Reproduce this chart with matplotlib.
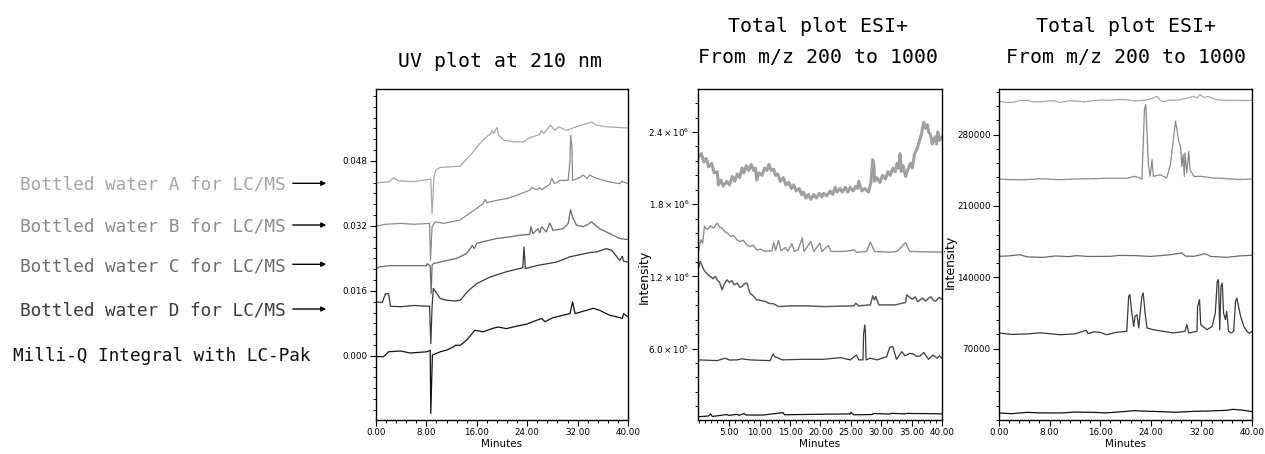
import numpy as np
import matplotlib
matplotlib.use('Agg')
import matplotlib.pyplot as plt
from matplotlib.ticker import MultipleLocator, FixedLocator, FormatStrFormatter
from matplotlib.patches import FancyArrowPatch

plt.rcParams['font.family'] = ['DejaVu Sans']
plt.rcParams['mathtext.fontset'] = 'dejavusans'

# sample names (left side)
sample_names = ['Bottled water A for LC/MS', 'Bottled water B for LC/MS',
                'Bottled water C for LC/MS', 'Bottled water D for LC/MS',
                'Milli-Q Integral with LC-Pak']

# ---- UV plot at 210 nm (minutes, AU) ----
uv_a = [(0, 0.0426), (2.0, 0.0428), (2.8, 0.0438), (3.5, 0.0431), (6, 0.0429), (8.7, 0.0435),
        (8.9, 0.0350), (9.2, 0.0441), (9.5, 0.0457), (10.2, 0.0464), (11.5, 0.0465), (13.3, 0.0467),
        (15.0, 0.0494), (16.5, 0.0523), (17.5, 0.0539), (18.2, 0.0546), (18.4, 0.0555), (18.7, 0.0547),
        (19.2, 0.0562), (19.5, 0.0543), (20.3, 0.0531), (22, 0.0527), (23.4, 0.0527), (24.4, 0.0537),
        (26, 0.0545), (26.2, 0.0555), (26.6, 0.0547), (27.7, 0.0568), (28.4, 0.0555), (29, 0.0564),
        (30.2, 0.0555), (31.8, 0.0564), (33.9, 0.0574), (34.2, 0.0576), (35, 0.0568), (36.6, 0.0564),
        (40, 0.0561)]
uv_b = [(0, 0.0319), (1.5, 0.0324), (4, 0.0326), (6, 0.0324), (8.5, 0.0326), (8.65, 0.0235),
        (8.9, 0.0318), (9.4, 0.0330), (10.7, 0.0326), (13.3, 0.0334), (14.4, 0.0346), (16, 0.0363),
        (17.0, 0.0375), (17.3, 0.0385), (17.6, 0.0377), (19.2, 0.0383), (20.7, 0.0387), (22.3, 0.0395),
        (24.4, 0.0408), (24.7, 0.0414), (25.5, 0.0409), (26, 0.0414), (26.3, 0.0409), (27.6, 0.0423),
        (27.9, 0.0437), (28.3, 0.0424), (29.2, 0.0432), (30.5, 0.0432), (30.8, 0.0482), (30.9, 0.0543),
        (31.1, 0.0514), (31.2, 0.0432), (32.1, 0.0437), (32.9, 0.0445), (33.5, 0.0437), (33.9, 0.0445),
        (35, 0.0437), (37.1, 0.0428), (38.7, 0.0424), (39, 0.0430), (40, 0.0424)]
uv_c = [(0, 0.0213), (0.5, 0.0219), (2, 0.0222), (8.0, 0.0222), (8.1, 0.0227), (8.6, 0.0222),
        (8.75, 0.0153), (8.9, 0.0223), (9.1, 0.0227), (10.2, 0.0231), (12.8, 0.0240), (14.4, 0.0252),
        (15.3, 0.0272), (15.6, 0.0264), (16, 0.0277), (17, 0.0281), (19.2, 0.0289), (21.3, 0.0293),
        (22.8, 0.0297), (24.4, 0.0299), (24.6, 0.0318), (24.9, 0.0301), (25.2, 0.0305), (25.7, 0.0313),
        (26.0, 0.0303), (26.3, 0.0318), (27.0, 0.0305), (27.6, 0.0327), (28.1, 0.0309), (29.7, 0.0313),
        (30.5, 0.0326), (30.9, 0.0360), (31.2, 0.0342), (31.8, 0.0322), (32.9, 0.0318), (33.9, 0.0326),
        (34.2, 0.0330), (35.5, 0.0313), (37.1, 0.0301), (38.7, 0.0289), (40, 0.0286)]
uv_d = [(0, 0.0133), (1.0, 0.0131), (1.5, 0.0153), (2.0, 0.0153), (2.3, 0.0122), (4, 0.0121),
        (6, 0.0124), (8.5, 0.0122), (8.7, 0.0030), (8.9, 0.0121), (9.1, 0.0166), (10.2, 0.0141),
        (11.2, 0.0137), (12.6, 0.0135), (13.4, 0.0137), (14.5, 0.0158), (16, 0.0178), (18.1, 0.0194),
        (20.7, 0.0207), (23.3, 0.0217), (23.5, 0.0268), (23.7, 0.0215), (25.8, 0.0223), (28.7, 0.0231),
        (30.8, 0.0244), (33.9, 0.0254), (35, 0.0256), (36.6, 0.0264), (37.4, 0.0260), (38.7, 0.0235),
        (39.1, 0.0245), (39.3, 0.0233), (40, 0.0231)]
uv_m = [(0, -0.0002), (1.2, -0.0002), (2, 0.0010), (3.9, 0.0012), (5.4, 0.0007), (8.1, 0.0010),
        (8.6, 0.0014), (8.7, -0.0142), (8.95, 0.0002), (10.2, 0.0010), (11.2, 0.0014), (12.3, 0.0022),
        (12.6, 0.0026), (13.4, 0.0026), (14.4, 0.0039), (15.7, 0.0063), (17, 0.0059), (18.4, 0.0067),
        (19.4, 0.0071), (20.7, 0.0067), (22.3, 0.0073), (23.9, 0.0078), (24.9, 0.0084), (26.3, 0.0092),
        (26.8, 0.0084), (28.1, 0.0094), (29.7, 0.0100), (30.8, 0.0104), (31.2, 0.0133), (31.6, 0.0104),
        (33.4, 0.0112), (34.5, 0.0117), (35.5, 0.0112), (37.1, 0.0100), (38.2, 0.0096), (39.1, 0.0092),
        (39.3, 0.0104), (40, 0.0096)]

# ---- TIC ESI+, first system (minutes, counts in millions) ----
tic1_a = [(0, 2.197), (0.4, 2.22), (0.8, 2.15), (1.2, 2.18), (1.6, 2.11), (2.1, 2.14), (2.5, 2.06),
          (3.0, 2.07), (3.2, 1.96), (3.6, 2.00), (4.0, 1.95), (4.6, 1.99), (5.0, 1.96), (5.5, 2.03),
          (5.9, 1.99), (6.3, 2.05), (6.7, 2.02), (7.1, 2.10), (7.4, 2.06), (7.8, 2.12), (8.2, 2.08),
          (8.6, 2.13), (9.0, 2.08), (9.3, 2.10), (9.5, 2.00), (9.9, 2.06), (10.4, 2.04), (10.8, 2.10),
          (11.2, 2.08), (11.5, 2.13), (11.9, 2.08), (12.3, 2.09), (12.6, 2.04), (13.0, 2.05),
          (13.4, 1.99), (13.9, 2.02), (14.3, 1.96), (14.8, 1.98), (15.2, 1.93), (15.6, 1.96),
          (16.0, 1.91), (16.5, 1.93), (16.9, 1.88), (17.2, 1.90), (17.6, 1.85), (18.0, 1.88),
          (18.4, 1.84), (18.9, 1.88), (19.3, 1.85), (19.8, 1.89), (20.2, 1.86), (20.5, 1.89),
          (21.0, 1.87), (21.6, 1.91), (22.0, 1.88), (22.4, 1.94), (22.7, 1.90), (23.2, 1.93),
          (23.6, 1.90), (24.1, 1.94), (24.5, 1.90), (24.9, 1.94), (25.4, 1.91), (25.8, 1.95),
          (26.1, 1.93), (26.3, 1.99), (26.8, 1.91), (27.3, 1.93), (27.9, 1.90), (28.3, 1.98),
          (28.6, 2.17), (28.8, 2.12), (28.9, 1.99), (29.3, 2.02), (29.8, 1.98), (30.2, 2.04),
          (30.7, 2.01), (31.1, 2.07), (31.5, 2.04), (31.9, 2.10), (32.3, 2.07), (32.6, 2.14),
          (32.9, 2.10), (33.1, 2.22), (33.3, 2.07), (33.6, 2.12), (34.0, 2.03), (34.4, 2.09),
          (34.8, 2.14), (35.1, 2.10), (35.5, 2.22), (35.9, 2.26), (36.3, 2.33), (36.6, 2.38),
          (37.0, 2.48), (37.3, 2.43), (37.6, 2.46), (37.8, 2.40), (38.1, 2.38), (38.4, 2.30),
          (38.6, 2.33), (38.9, 2.36), (39.1, 2.30), (39.3, 2.40), (39.6, 2.33), (40, 2.36)]
tic1_b = [(0, 1.421), (0.3, 1.504), (0.6, 1.476), (0.9, 1.615), (1.4, 1.590), (1.9, 1.620),
          (2.4, 1.600), (3.0, 1.643), (3.4, 1.610), (3.8, 1.601), (4.3, 1.570), (4.8, 1.555),
          (5.2, 1.532), (5.7, 1.540), (6.2, 1.505), (6.8, 1.490), (7.3, 1.500), (7.8, 1.465),
          (8.4, 1.449), (8.9, 1.460), (9.5, 1.421), (10.2, 1.425), (10.9, 1.407), (11.5, 1.412),
          (12.0, 1.412), (12.3, 1.482), (12.6, 1.415), (13.1, 1.498), (13.5, 1.412), (14.2, 1.440),
          (14.6, 1.410), (15.3, 1.471), (15.7, 1.407), (16.3, 1.420), (17.0, 1.518), (17.3, 1.407),
          (18.4, 1.490), (18.9, 1.407), (19.9, 1.476), (20.2, 1.407), (21.3, 1.457), (21.7, 1.407),
          (23.3, 1.407), (24.5, 1.410), (25.5, 1.421), (26.0, 1.399), (27.6, 1.407), (28.2, 1.485),
          (28.9, 1.407), (31.5, 1.401), (32.6, 1.407), (34.0, 1.482), (34.7, 1.407), (40, 1.401)]
tic1_c = [(0, 1.282), (0.2, 1.324), (0.5, 1.290), (0.8, 1.254), (1.2, 1.230), (1.5, 1.210),
          (1.9, 1.199), (2.3, 1.180), (2.7, 1.200), (3.0, 1.171), (3.4, 1.150), (3.8, 1.088),
          (4.2, 1.140), (4.6, 1.171), (5.0, 1.150), (5.4, 1.165), (5.8, 1.130), (6.3, 1.144),
          (6.7, 1.110), (7.1, 1.116), (7.5, 1.140), (7.9, 1.144), (8.4, 1.060), (8.9, 1.040),
          (9.5, 1.005), (10.2, 1.000), (10.9, 0.991), (11.6, 0.975), (12.3, 0.972), (13.1, 0.949),
          (15.0, 0.955), (17.8, 0.955), (20.5, 0.949), (25.5, 0.955), (25.8, 0.977), (26.3, 0.955),
          (28.2, 0.963), (28.6, 1.038), (28.9, 1.005), (29.1, 1.033), (29.6, 0.963), (32.3, 0.963),
          (34.0, 0.983), (34.2, 1.046), (35.1, 1.010), (35.6, 1.030), (36.0, 0.990), (36.4, 1.005),
          (36.8, 1.020), (37.3, 0.995), (37.8, 1.019), (38.2, 1.030), (38.6, 0.999), (39.0, 0.995),
          (39.5, 1.025), (40, 1.010)]
tic1_d = [(0, 0.506), (3.0, 0.500), (4.3, 0.520), (5.0, 0.505), (6.3, 0.506), (7.0, 0.515),
          (8.4, 0.506), (11.7, 0.500), (12.2, 0.556), (12.5, 0.530), (12.8, 0.528), (13.7, 0.506),
          (17.2, 0.511), (20.5, 0.511), (23.3, 0.525), (24.9, 0.506), (25.9, 0.547), (26.3, 0.506),
          (27.0, 0.506), (27.1, 0.722), (27.3, 0.797), (27.4, 0.728), (27.5, 0.506), (28.2, 0.520),
          (29.3, 0.506), (30.9, 0.533), (31.4, 0.611), (31.9, 0.617), (32.5, 0.511), (33.4, 0.575),
          (33.9, 0.540), (34.2, 0.547), (34.7, 0.560), (35.3, 0.556), (35.8, 0.535), (36.4, 0.539),
          (37.0, 0.567), (37.8, 0.511), (38.5, 0.547), (39.2, 0.520), (39.6, 0.540), (40, 0.520)]
tic1_m = [(0, 0.034), (1.6, 0.040), (1.9, 0.057), (2.2, 0.036), (4.6, 0.052), (4.9, 0.045),
          (6.3, 0.054), (6.6, 0.045), (7.4, 0.060), (7.8, 0.048), (10.6, 0.048), (13.8, 0.068),
          (14.1, 0.050), (19.4, 0.054), (24.9, 0.057), (25.0, 0.070), (25.5, 0.050), (28.5, 0.052),
          (28.7, 0.060), (31.5, 0.056), (31.7, 0.062), (34.0, 0.057), (34.3, 0.062), (35.5, 0.060),
          (37.0, 0.060), (40, 0.057)]

# ---- TIC ESI+, second system (minutes, counts in thousands) ----
tic2_a = [(0, 312.7), (1.2, 311.5), (2.3, 311.7), (3.3, 313.5), (4.4, 313.7), (5.5, 312.0),
          (7.0, 312.4), (8.3, 313.5), (9.7, 311.7), (11.0, 313.2), (12.3, 313.0), (13.5, 312.2),
          (14.9, 313.4), (16.2, 314.0), (17.6, 313.7), (19.0, 314.5), (20.2, 314.3), (21.5, 313.0),
          (22.8, 313.7), (24.0, 315.0), (25.0, 317.6), (25.5, 313.5), (26.0, 312.4), (27.0, 314.0),
          (28.1, 313.7), (29.5, 315.5), (30.8, 317.6), (31.3, 316.0), (31.8, 319.2), (32.4, 316.5),
          (33.1, 317.6), (33.8, 315.5), (34.5, 314.3), (35.8, 313.5), (37.1, 313.7), (38.5, 313.5),
          (40, 313.7)]
tic2_b = [(0, 236.5), (2, 235.8), (4.4, 235.8), (6.5, 236.8), (9.7, 235.8), (12, 236.5),
          (14.9, 236.8), (17, 237.2), (20.2, 237.2), (21.5, 239.1), (22.6, 236.5), (23.0, 304.5),
          (23.2, 309.4), (23.4, 283.3), (23.6, 252.2), (23.9, 239.1), (24.2, 255.5), (24.4, 239.1),
          (25.5, 240.7), (26.5, 237.5), (27.1, 250.6), (27.6, 276.7), (27.9, 293.1), (28.1, 286.5),
          (28.4, 273.5), (28.7, 268.5), (28.9, 248.9), (29.1, 260.4), (29.3, 239.1), (29.4, 262.0),
          (29.7, 242.4), (30.0, 263.6), (30.2, 245.7), (30.5, 242.4), (30.8, 239.1), (31.8, 239.1),
          (33.9, 237.5), (36.0, 236.8), (38, 236.0), (40, 236.5)]
tic2_c = [(0, 160.6), (1.5, 161.0), (3.3, 162.2), (4.5, 160.0), (7.0, 159.6), (9.0, 161.0),
          (11.0, 160.3), (12.3, 161.3), (14.0, 160.5), (17.6, 160.6), (19.0, 161.5), (21.6, 161.3),
          (24.0, 160.5), (27.1, 162.2), (28.9, 163.9), (29.5, 160.8), (30.8, 160.6), (32.6, 163.2),
          (33.5, 160.5), (36.0, 159.6), (38.0, 161.0), (40, 161.6)]
tic2_d = [(0, 85.4), (2, 84.0), (4.4, 84.4), (6.5, 85.5), (9.7, 83.7), (12, 84.5), (13.8, 88.0),
          (14.1, 84.7), (15.0, 86.5), (16.0, 86.0), (17.0, 83.7), (18.5, 86.0), (20.2, 87.0),
          (20.5, 121.4), (20.7, 123.0), (21.0, 105.0), (21.3, 91.9), (21.5, 101.7), (21.8, 103.4),
          (22.1, 90.3), (22.3, 104.3), (22.6, 121.4), (22.8, 124.6), (23.1, 105.0), (23.4, 90.3),
          (24.4, 88.6), (26.0, 87.0), (27.6, 85.4), (29.4, 87.0), (29.7, 93.6), (30.0, 85.4),
          (31.3, 87.0), (31.4, 111.5), (31.7, 118.1), (31.9, 93.6), (32.2, 91.9), (32.9, 88.6),
          (33.7, 91.9), (34.2, 105.0), (34.5, 136.1), (34.7, 137.7), (34.9, 88.6), (35.1, 131.2),
          (35.3, 134.4), (35.5, 105.0), (35.8, 98.5), (36.0, 106.6), (36.3, 87.0), (36.7, 85.4),
          (37.1, 87.0), (37.4, 116.4), (37.6, 119.7), (38.2, 101.7), (38.7, 91.9), (39.2, 87.0),
          (39.6, 85.0), (40, 87.0)]
tic2_m = [(0, 6.9), (2, 6.2), (4.4, 7.5), (6.5, 7.0), (9.7, 6.9), (12, 7.8), (14.9, 7.5), (17, 7.0),
          (20.2, 8.5), (21.3, 9.2), (23, 8.7), (25.5, 8.2), (28, 7.6), (30.8, 8.5), (33, 8.8),
          (36.0, 9.5), (37, 10.5), (38.7, 9.5), (40, 8.2)]

tic1_ticks = [0.6e6, 1.2e6, 1.8e6, 2.4e6]
tic1_labels = [r'$6.0\times10^{5}$', r'$1.2\times10^{6}$', r'$1.8\times10^{6}$', r'$2.4\times10^{6}$']
tic2_ticks = [70000, 140000, 210000, 280000]

label_colors = ['#a6a6a6', '#8c8c8c', '#6e6e6e', '#3c3c3c', '#111111']
line_colors = ['#a8a8a8', '#8a8a8a', '#6a6a6a', '#3a3a3a', '#111111']

W, H = 1265, 454
fig = plt.figure(figsize=(W / 100, H / 100), dpi=100)


def frac(x0, x1):
    return [x0 / W, (H - 420) / H, (x1 - x0) / W, 331 / H]


ax1 = fig.add_axes(frac(376, 628))
ax2 = fig.add_axes(frac(698, 942))
ax3 = fig.add_axes(frac(999, 1252))


def style(ax):
    for s in ax.spines.values():
        s.set_linewidth(1.0)
    ax.tick_params(which='major', direction='out', length=4, width=0.8, labelsize=6.3, pad=2)
    ax.tick_params(which='minor', direction='out', length=2.5, width=0.7)
    ax.set_xlabel('Minutes', fontsize=7.5, labelpad=1)


# UV panel
for tr, c in zip([uv_a, uv_b, uv_c, uv_d, uv_m], line_colors):
    a = np.array(tr)
    ax1.plot(a[:, 0], a[:, 1], color=c, lw=0.9)
ax1.set_xlim(0, 40)
ax1.set_ylim(-0.0158, 0.0657)
ax1.xaxis.set_major_locator(MultipleLocator(8))
ax1.xaxis.set_minor_locator(MultipleLocator(1.6))
ax1.xaxis.set_major_formatter(FormatStrFormatter('%.2f'))
ax1.yaxis.set_major_locator(FixedLocator([0.0, 0.016, 0.032, 0.048]))
ax1.yaxis.set_minor_locator(MultipleLocator(0.016 / 6))
ax1.yaxis.set_major_formatter(FormatStrFormatter('%.3f'))
style(ax1)

# TIC panel 1
tic1_colors = ['#a0a0a0', '#8e8e8e', '#5e5e5e', '#3a3a3a', '#111111']
tic1_widths = [2.2, 1.0, 1.1, 0.9, 0.9]
for tr, c, w in zip([tic1_a, tic1_b, tic1_c, tic1_d, tic1_m], tic1_colors, tic1_widths):
    a = np.array(tr)
    ax2.plot(a[:, 0], a[:, 1] * 1e6, color=c, lw=w)
ax2.set_xlim(-0.16, 40)
ax2.set_ylim(0.0066e6, 2.757e6)
ax2.xaxis.set_major_locator(FixedLocator([5, 10, 15, 20, 25, 30, 35, 40]))
ax2.xaxis.set_minor_locator(MultipleLocator(1))
ax2.xaxis.set_major_formatter(FormatStrFormatter('%.2f'))
ax2.yaxis.set_major_locator(FixedLocator(tic1_ticks))
ax2.yaxis.set_major_formatter(plt.FixedFormatter(tic1_labels))
ax2.yaxis.set_minor_locator(MultipleLocator(0.12e6))
style(ax2)
ax2.set_ylabel('Intensity', fontsize=9)
ax2.yaxis.set_label_coords(-0.193, 0.432)

# TIC panel 2
for tr, c in zip([tic2_a, tic2_b, tic2_c, tic2_d, tic2_m], line_colors):
    a = np.array(tr)
    ax3.plot(a[:, 0], a[:, 1] * 1000, color=c, lw=0.9)
ax3.set_xlim(0, 40)
ax3.set_ylim(0, 324800)
ax3.xaxis.set_major_locator(MultipleLocator(8))
ax3.xaxis.set_minor_locator(MultipleLocator(1.6))
ax3.xaxis.set_major_formatter(FormatStrFormatter('%.2f'))
ax3.yaxis.set_major_locator(FixedLocator(tic2_ticks))
ax3.yaxis.set_minor_locator(MultipleLocator(14000))
ax3.yaxis.set_major_formatter(FormatStrFormatter('%d'))
style(ax3)
ax3.set_ylabel('Intensity', fontsize=9)
ax3.yaxis.set_label_coords(-0.166, 0.477)

# titles
mono = 'DejaVu Sans Mono'
fig.text(500 / W, 1 - 67 / H, 'UV plot at 210 nm', ha='center', va='baseline',
         family=mono, fontsize=14.3)
for cx in (818, 1126):
    fig.text(cx / W, 1 - 31.7 / H, 'Total plot ESI+', ha='center', va='baseline',
             family=mono, fontsize=14.3)
    fig.text(cx / W, 1 - 63.3 / H, 'From m/z 200 to 1000', ha='center', va='baseline',
             family=mono, fontsize=14.3)

# sample labels with arrows
baselines = [190, 231.7, 271.7, 315.7]
arrow_y = [183.3, 225, 264.3, 309]
for name, col, yb, ya in zip(sample_names[:4], label_colors, baselines, arrow_y):
    fig.text(286 / W, 1 - yb / H, name, ha='right', va='baseline', family=mono,
             fontsize=12.8, color=col)
    fig.add_artist(FancyArrowPatch((290 / W, 1 - ya / H), (329 / W, 1 - ya / H),
                                   transform=fig.transFigure, arrowstyle='-|>',
                                   mutation_scale=7, color='black', lw=1.0))
fig.text(13 / W, 1 - 361 / H, sample_names[4], ha='left', va='baseline', family=mono,
         fontsize=12.8, color=label_colors[4])

fig.savefig('out.png', dpi=100)
